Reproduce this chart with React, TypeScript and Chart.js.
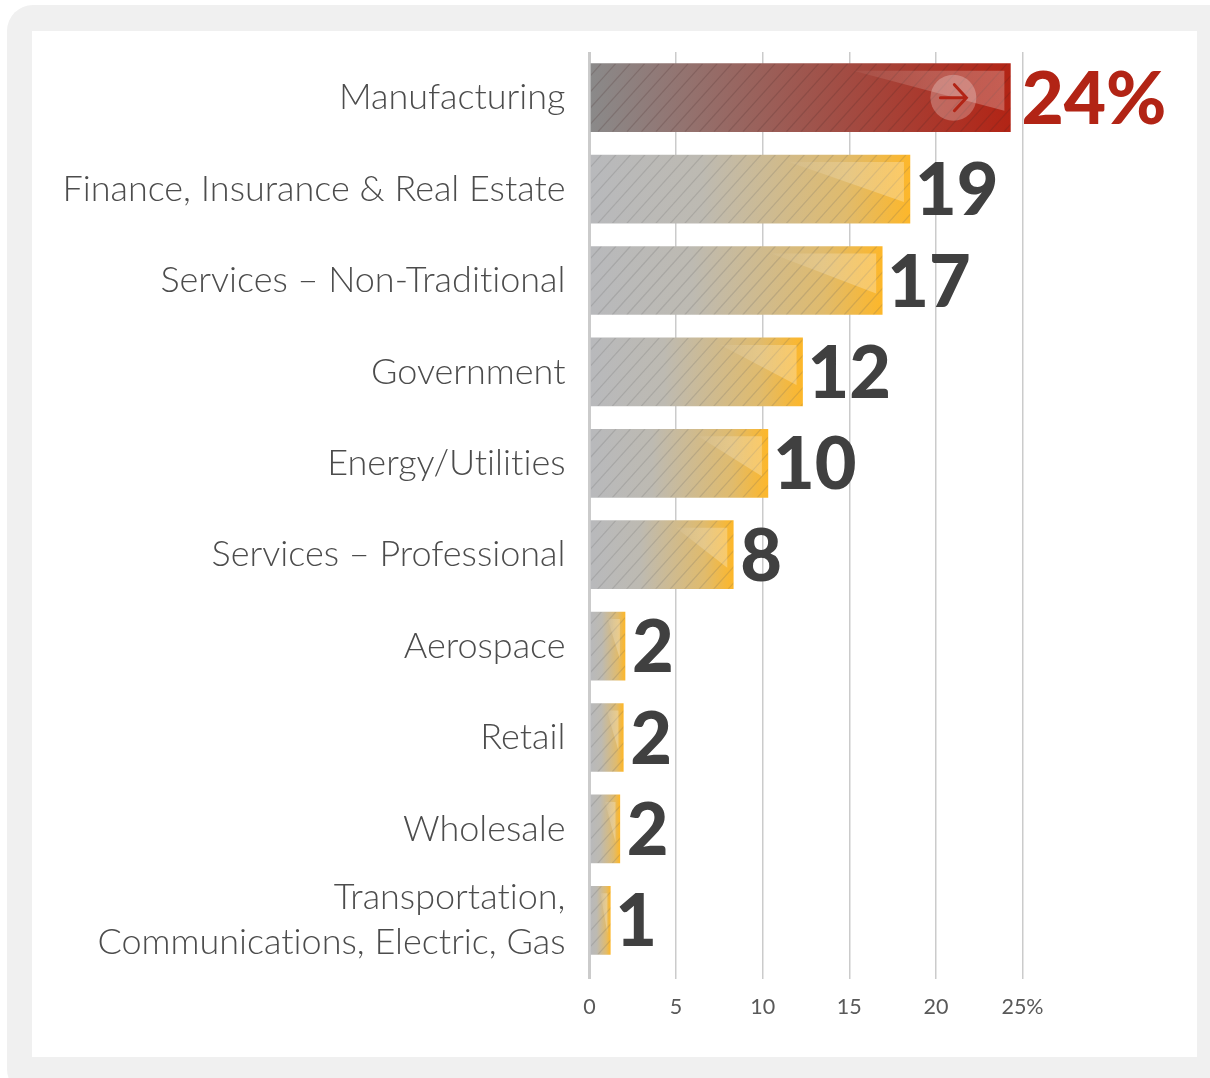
import React, { useEffect, useRef } from "react";
import { Chart, registerables } from "chart.js";

Chart.register(...registerables);

const categories: (string | string[])[] = [
  "Manufacturing",
  "Finance, Insurance & Real Estate",
  "Services – Non-Traditional",
  "Government",
  "Energy/Utilities",
  "Services – Professional",
  "Aerospace",
  "Retail",
  "Wholesale",
  ["Transportation,", "Communications, Electric, Gas"],
];
const shares = [24.3, 18.5, 16.9, 12.3, 10.3, 8.3, 2.05, 1.95, 1.75, 1.2];
const valueLabels = ["24%", "19", "17", "12", "10", "8", "2", "2", "2", "1"];
const axisTicks = [0, 5, 10, 15, 20, 25];

const FONT = "Lato";
const RED = "#b22415";
const DARK = "#404040";
const TEXT = "#4c4c4c";

const decor = {
  id: "decor",
  beforeDraw(chart: any) {
    chart.ctx.textRendering = "optimizeSpeed";
  },
  afterDatasetsDraw(chart: any) {
    const { ctx } = chart;
    const bars = chart.getDatasetMeta(0).data;
    bars.forEach((bar: any, i: number) => {
      const left = bar.base;
      const right = bar.x;
      const top = bar.y - bar.height / 2;
      const bottom = bar.y + bar.height / 2;
      const w = right - left;

      ctx.save();
      ctx.beginPath();
      ctx.rect(left, top, w, bar.height);
      ctx.clip();
      ctx.strokeStyle = i === 0 ? "rgba(70,40,40,0.2)" : "rgba(95,95,95,0.2)";
      ctx.lineWidth = 1.2;
      for (let x = left - 80; x < right + 80; x += 14.5) {
        ctx.beginPath();
        ctx.moveTo(x, bottom);
        ctx.lineTo(x + bar.height * 0.9, top);
        ctx.stroke();
      }
      ctx.restore();

      const inset = Math.min(6, w * 0.15);
      const x0 = right - inset - w * 0.36;
      const sheen = ctx.createLinearGradient(x0, 0, right - inset, 0);
      sheen.addColorStop(0, "rgba(255,255,255,0.04)");
      sheen.addColorStop(0.5, "rgba(255,255,255,0.18)");
      sheen.addColorStop(1, "rgba(255,255,255,0.26)");
      ctx.fillStyle = sheen;
      ctx.beginPath();
      ctx.moveTo(x0, top + 7);
      ctx.lineTo(right - inset, top + 7);
      ctx.lineTo(right - inset, bottom - 21);
      ctx.closePath();
      ctx.fill();

      if (i === 0) {
        const cx = right - 57;
        ctx.fillStyle = "rgba(255,255,255,0.26)";
        ctx.beginPath();
        ctx.ellipse(cx, bar.y, 23, 23, 0, 0, Math.PI * 2);
        ctx.fill();
        ctx.strokeStyle = RED;
        ctx.lineWidth = 3;
        ctx.lineCap = "round";
        ctx.beginPath();
        ctx.moveTo(cx - 13, bar.y);
        ctx.lineTo(cx + 11, bar.y);
        ctx.moveTo(cx + 1, bar.y - 13);
        ctx.lineTo(cx + 13, bar.y);
        ctx.lineTo(cx + 1, bar.y + 13);
        ctx.stroke();
      }

      ctx.fillStyle = i === 0 ? RED : DARK;
      ctx.font = `900 ${i === 0 ? 73 : 72}px ${FONT}`;
      ctx.textAlign = "left";
      ctx.textBaseline = "alphabetic";
      const gap = i === 0 ? 13 : 9;
      const ink = ctx.measureText(valueLabels[i]).actualBoundingBoxLeft;
      ctx.fillText(valueLabels[i], right + gap + ink, bar.y + 26);
    });
  },
};

export default function App() {
  const ref = useRef<HTMLCanvasElement | null>(null);
  useEffect(() => {
    document.body.style.margin = "0";
    const chart = new Chart(ref.current!, {
      type: "bar",
      data: {
        labels: categories as any,
        datasets: [
          {
            data: shares,
            barThickness: 68,
            backgroundColor: (c: any) => {
              const xs = c.chart.scales.x;
              if (!xs || c.type !== "data") return "#bbb";
              const a = xs.getPixelForValue(0);
              const b = xs.getPixelForValue(c.raw);
              if (!Number.isFinite(a) || !Number.isFinite(b)) return "#bbb";
              const g = c.chart.ctx.createLinearGradient(a, 0, b, 0);
              if (c.dataIndex === 0) {
                g.addColorStop(0, "#8a8a8a");
                g.addColorStop(1, RED);
              } else {
                g.addColorStop(0, "#b8b9bc");
                g.addColorStop(0.35, "#bdbab2");
                g.addColorStop(0.8, "#e0bb6d");
                g.addColorStop(1, "#fdb72a");
              }
              return g;
            },
          },
        ],
      },
      options: {
        indexAxis: "y",
        animation: false,
        responsive: false,
        layout: { padding: { top: 52, right: 187.5, left: 0, bottom: 0 } },
        plugins: { legend: { display: false }, tooltip: { enabled: false } },
        scales: {
          y: {
            afterFit: (s: any) => {
              s.width = 589.5;
              s.paddingTop = 0;
              s.paddingBottom = 0;
            },
            grid: { display: false, drawTicks: false },
            border: { display: false },
            ticks: {
              autoSkip: false,
              padding: 24,
              color: TEXT,
              font: { family: FONT, size: 36, weight: 300, lineHeight: 1.25 },
            },
          },
          x: {
            min: 0,
            max: 25,
            afterFit: (s: any) => {
              s.height = 112;
              s.paddingLeft = 0;
              s.paddingRight = 0;
            },
            afterBuildTicks: (s: any) => {
              s.ticks = axisTicks.map((value) => ({ value }));
            },
            border: { display: false },
            grid: {
              color: "#cbcbcb",
              lineWidth: (c: any) => (c.tick && c.tick.value === 0 ? 3 : 1.5),
              tickLength: 13,
            },
            ticks: {
              autoSkip: false,
              maxRotation: 0,
              padding: 15,
              color: "#595959",
              font: { family: FONT, size: 21.5 },
              callback: (v: any) => (v === 25 ? "25%" : String(v)),
            },
          },
        },
      } as any,
      plugins: [decor],
    });
    return () => chart.destroy();
  }, []);
  return (
    <div style={{ position: "relative", width: 1210, height: 1078, overflow: "hidden" }}>
      <div
        style={{
          position: "absolute",
          left: 7,
          top: 5,
          width: 1230,
          height: 1090,
          background: "#f0f0f0",
          borderRadius: 26,
        }}
      />
      <div style={{ position: "absolute", left: 32, top: 31, width: 1165, height: 1026, background: "#fff" }} />
      <canvas ref={ref} width={1210} height={1078} style={{ position: "absolute", left: 0, top: 0 }} />
    </div>
  );
}
